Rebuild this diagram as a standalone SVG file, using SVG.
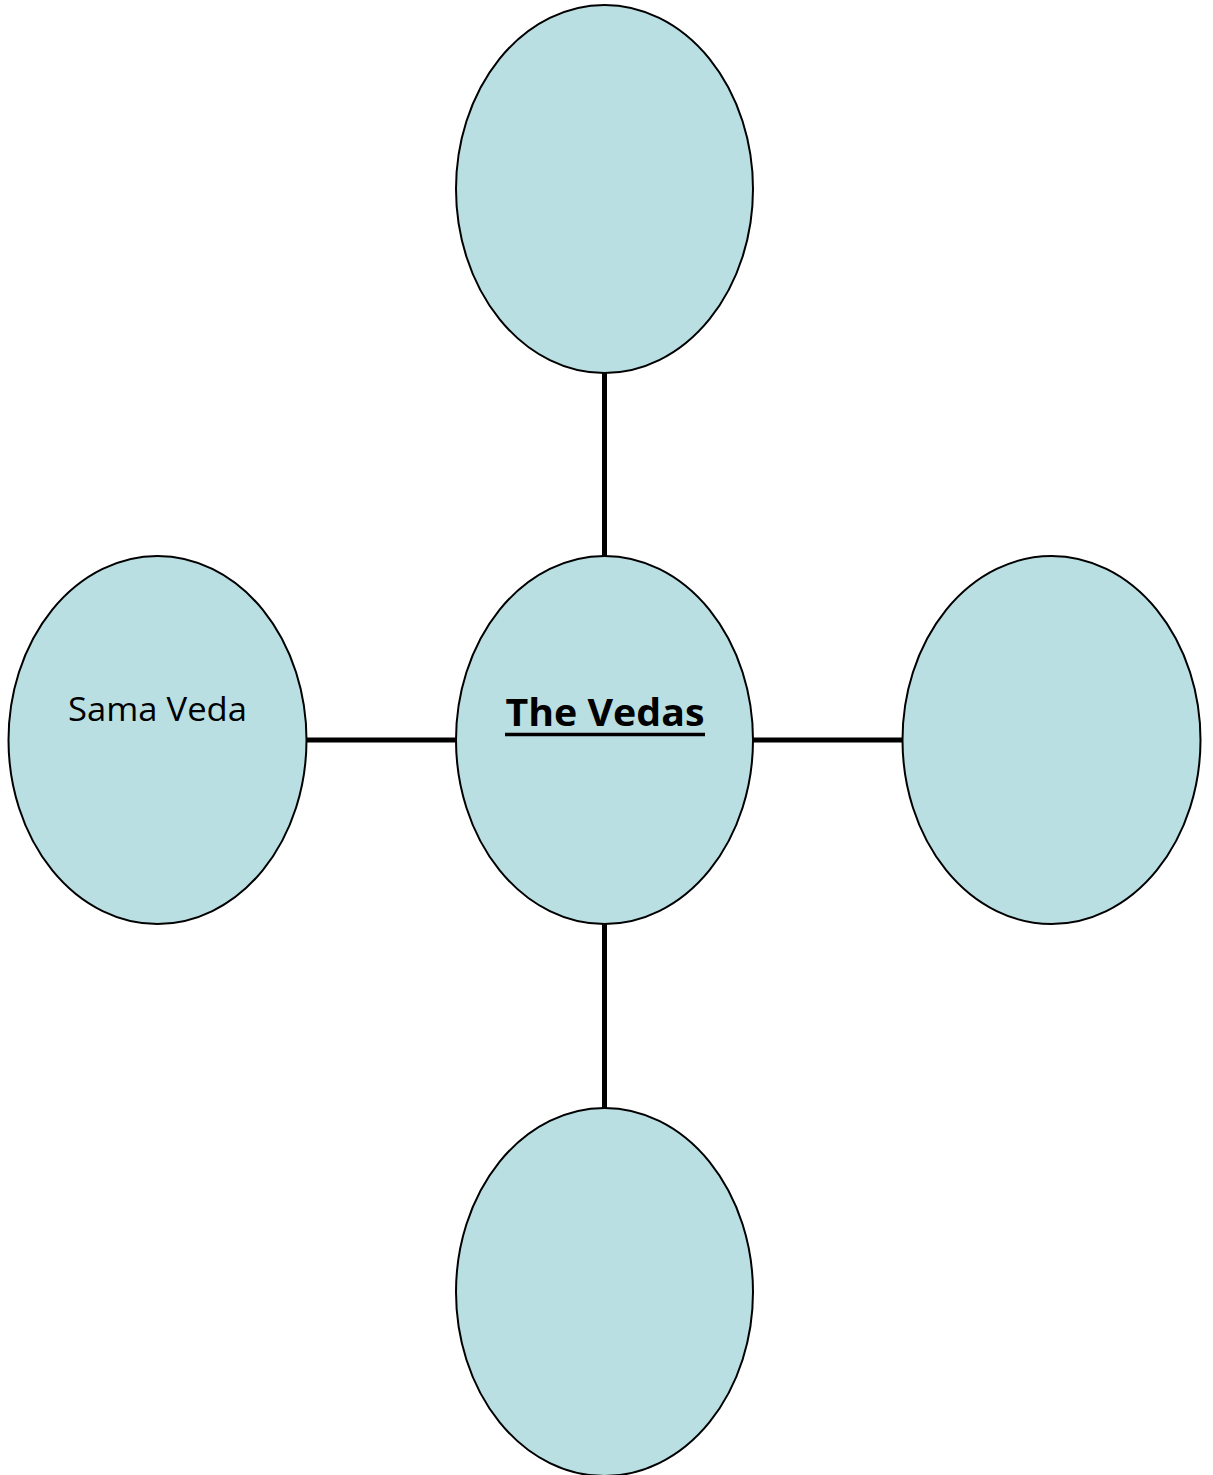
<svg xmlns="http://www.w3.org/2000/svg" width="1213" height="1475" viewBox="0 0 1213 1475">
  <style>
    .node { fill: #B9DFE3; stroke: #000; stroke-width: 2; }
    .link { stroke: #000; stroke-width: 5; fill: none; }
    .label { font-family: "Open Sans", "Liberation Sans", sans-serif; fill: #000; }
  </style>
  <rect width="1213" height="1475" fill="#fff"/>
  <!-- spokes from the hub to each satellite -->
  <g id="connectors">
    <line class="link" x1="604.5" y1="373" x2="604.5" y2="556"/>
    <line class="link" x1="604.5" y1="924" x2="604.5" y2="1108"/>
    <line class="link" x1="307" y1="740" x2="456" y2="740"/>
    <line class="link" x1="753" y1="740" x2="903" y2="740"/>
  </g>
  <g id="node-top">
    <ellipse class="node" cx="604.5" cy="189" rx="148.5" ry="184"/>
  </g>
  <g id="node-left">
    <ellipse class="node" cx="157.5" cy="740" rx="149" ry="184"/>
    <text class="label" x="157.5" y="721" font-size="33" text-anchor="middle" textLength="179" lengthAdjust="spacingAndGlyphs">Sama Veda</text>
  </g>
  <g id="node-center">
    <ellipse class="node" cx="604.5" cy="740" rx="148.5" ry="184"/>
    <text class="label" x="605" y="726" font-size="38" font-weight="bold" text-anchor="middle" textLength="199" lengthAdjust="spacingAndGlyphs">The Vedas</text>
    <line x1="505" y1="734.5" x2="705" y2="734.5" stroke="#000" stroke-width="3.5"/>
  </g>
  <g id="node-right">
    <ellipse class="node" cx="1051.5" cy="740" rx="149" ry="184"/>
  </g>
  <g id="node-bottom">
    <ellipse class="node" cx="604.5" cy="1292" rx="148.5" ry="184"/>
  </g>
</svg>
